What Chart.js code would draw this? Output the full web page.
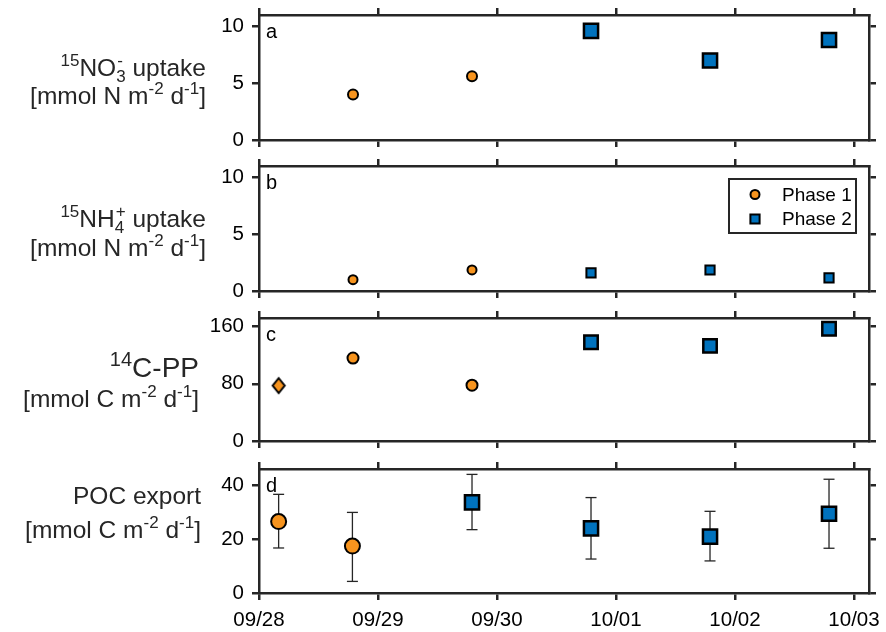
<!DOCTYPE html>
<html>
<head>
<meta charset="utf-8">
<script src="https://cdn.jsdelivr.net/npm/chart.js@4.4.1/dist/chart.umd.min.js"></script>
<style>
  html, body { margin: 0; padding: 0; background: #fff; }
  #wrap { position: relative; width: 886px; height: 632px; overflow: hidden; background: #fff; }
  #wrap canvas { position: absolute; left: 0; }
</style>
</head>
<body>
<div id="wrap">
  <canvas id="panelA" width="886" height="175"></canvas>
  <canvas id="panelB" width="886" height="175"></canvas>
  <canvas id="panelC" width="886" height="173"></canvas>
  <canvas id="panelD" width="886" height="188"></canvas>
</div>
<script>
// x axis: days since 09/28 00:00
const xTicks = [0, 1, 2, 3, 4, 5];
const xTickLabels = ["09/28", "09/29", "09/30", "10/01", "10/02", "10/03"];
const xMax = 5.126;

// sampling times (days)
const dayP1 = [0.79, 1.79];
const dayP2 = [2.79, 3.79, 4.79];
const dayPPExtra = [0.165];
const dayPocP1 = [0.165, 0.785];
const dayPocP2 = [1.79, 2.79, 3.79, 4.79];

// a: 15NO3- uptake
const no3P1 = [4.0, 5.6];
const no3P2 = [9.6, 7.0, 8.8];
// b: 15NH4+ uptake
const nh4P1 = [1.0, 1.85];
const nh4P2 = [1.6, 1.85, 1.15];
// c: 14C-PP
const ppExtra = [77.5];
const ppP1 = [116, 78];
const ppP2 = [138, 133, 157];
// d: POC export with error range
const pocP1 = [26.5, 17.4];
const pocP1Lo = [16.7, 4.3];
const pocP1Hi = [36.6, 29.9];
const pocP2 = [33.6, 24.0, 20.9, 29.4];
const pocP2Lo = [23.5, 12.6, 11.9, 16.6];
const pocP2Hi = [44.0, 35.4, 30.3, 42.2];

// y ticks
const yTicksN = [0, 5, 10];
const yMaxN = 11;
const yTicksPP = [0, 80, 160];
const yMaxPP = 172;
const yTicksPoc = [0, 20, 40];
const yMaxPoc = 46;

const legendLabels = ["Phase 1", "Phase 2"];
const titleA = ["^{15}NO_{3}^{-} uptake", "[mmol N m^{-2} d^{-1}]"];
const titleB = ["^{15}NH_{4}^{+} uptake", "[mmol N m^{-2} d^{-1}]"];
const titleC = ["^{14}C-PP", "[mmol C m^{-2} d^{-1}]"];
const titleD = ["POC export", "[mmol C m^{-2} d^{-1}]"];

const ORANGE = "#F7941E";
const BLUE = "#0072BD";
const INK = "#262626";
const FONT = '"Liberation Sans", Arial, Helvetica, sans-serif';

function pts(xs, ys) {
    return xs.map((x, i) => ({ x: x, y: ys[i] }));
}

function errData(xs, lo, hi) {
    const out = [];
    xs.forEach((x, i) => {
        out.push({ x: x, y: lo[i] }, { x: x, y: hi[i] }, { x: x, y: null });
    });
    return out;
}

// tall diamond marker (MATLAB 'd')
function diamondImage(w, h, fill) {
    const c = document.createElement("canvas");
    c.width = w + 4;
    c.height = h + 4;
    const g = c.getContext("2d");
    const cx = c.width / 2, cy = c.height / 2;
    g.beginPath();
    g.moveTo(cx, cy - h / 2);
    g.lineTo(cx + w / 2, cy);
    g.lineTo(cx, cy + h / 2);
    g.lineTo(cx - w / 2, cy);
    g.closePath();
    g.fillStyle = fill;
    g.fill();
    g.lineWidth = 2;
    g.strokeStyle = "#000";
    g.stroke();
    return c;
}

function markers(label, data, style, radius, fill, bw) {
    return {
        label: label,
        data: data,
        pointStyle: style,
        pointRadius: radius,
        pointHoverRadius: radius,
        pointBackgroundColor: fill,
        pointBorderColor: "#000",
        pointBorderWidth: bw,
        backgroundColor: fill,
        borderColor: "#000",
        borderWidth: bw,
        showLine: false,
        order: 1
    };
}

function errorBars(data) {
    return {
        data: data,
        showLine: true,
        spanGaps: false,
        borderColor: INK,
        borderWidth: 1.3,
        pointStyle: "line",
        pointRadius: 5.5,
        pointHoverRadius: 5.5,
        pointBorderColor: INK,
        pointBorderWidth: 1.3,
        order: 5
    };
}

// small TeX-like parser: ^{..} superscript, _{..} subscript
function parseTex(s) {
    const out = [];
    let i = 0;
    while (i < s.length) {
        const c = s[i];
        if ((c === "^" || c === "_") && s[i + 1] === "{") {
            const j = s.indexOf("}", i);
            const txt = s.slice(i + 2, j);
            const kind = c === "^" ? "sup" : "sub";
            const prev = out[out.length - 1];
            if (prev && prev.kind === "sub" && kind === "sup" && prev.stack === undefined) {
                prev.stack = txt;
            } else {
                out.push({ kind: kind, text: txt });
            }
            i = j + 1;
        } else {
            let j = i;
            while (j < s.length && !((s[j] === "^" || s[j] === "_") && s[j + 1] === "{")) j++;
            out.push({ kind: "norm", text: s.slice(i, j) });
            i = j;
        }
    }
    return out;
}

function drawTex(ctx, str, right, baseline, size) {
    const parts = parseTex(str);
    const small = Math.round(size * 0.7);
    const fNorm = size + "px " + FONT;
    const fSmall = small + "px " + FONT;
    const widths = parts.map(p => {
        if (p.kind === "norm") {
            ctx.font = fNorm;
            return ctx.measureText(p.text).width;
        }
        ctx.font = fSmall;
        let w = ctx.measureText(p.text).width;
        if (p.stack !== undefined) w = Math.max(w, ctx.measureText(p.stack).width + 1);
        return w;
    });
    let x = right - widths.reduce((a, b) => a + b, 0);
    parts.forEach((p, i) => {
        if (p.kind === "norm") {
            ctx.font = fNorm;
            ctx.fillText(p.text, x, baseline);
        } else {
            ctx.font = fSmall;
            const dy = p.kind === "sup" ? -0.4 * size : 0.26 * size;
            ctx.fillText(p.text, x, baseline + dy);
            if (p.stack !== undefined) ctx.fillText(p.stack, x + 1, baseline - 0.4 * size);
        }
        x += widths[i];
    });
}

function drawMarker(ctx, style, radius, x, y) {
    if (Chart.helpers && Chart.helpers.drawPoint) {
        Chart.helpers.drawPoint(ctx, { pointStyle: style, radius: radius, rotation: 0, borderWidth: ctx.lineWidth }, x, y);
        return;
    }
    ctx.beginPath();
    if (style === "rect") {
        const s = radius * Math.SQRT1_2;
        ctx.rect(x - s, y - s, 2 * s, 2 * s);
    } else {
        ctx.arc(x, y, radius, 0, Math.PI * 2);
    }
    ctx.fill();
    ctx.stroke();
}

// canvas-level decorations: panel letter, y title, optional legend
function decorPlugin(spec) {
    return {
        id: "decor",
        afterDraw(chart) {
            const ctx = chart.ctx;
            const a = chart.chartArea;
            ctx.save();
            ctx.fillStyle = "#000";
            ctx.textAlign = "left";
            ctx.textBaseline = "alphabetic";
            ctx.font = "20px " + FONT;
            ctx.fillText(spec.letter, a.left + 7, a.top + 23);

            ctx.fillStyle = INK;
            spec.title.forEach((line, i) => {
                drawTex(ctx, line, spec.titleRight, spec.baselines[i] - spec.canvasTop, spec.sizes[i]);
            });

            if (spec.legend) {
                const bx = a.right - 140, by = a.top + 13, bw = 127, bh = 54;
                ctx.fillStyle = "#fff";
                ctx.fillRect(bx, by, bw, bh);
                ctx.strokeStyle = INK;
                ctx.lineWidth = 2;
                ctx.strokeRect(bx, by, bw, bh);
                const items = chart.data.datasets.filter(d => legendLabels.includes(d.label));
                items.forEach((d, i) => {
                    const cy = by + 15.5 + i * 24.5;
                    ctx.fillStyle = d.pointBackgroundColor;
                    ctx.strokeStyle = "#000";
                    ctx.lineWidth = d.pointBorderWidth;
                    drawMarker(ctx, d.pointStyle, d.pointRadius, bx + 26, cy);
                    ctx.fillStyle = "#000";
                    ctx.font = "19px " + FONT;
                    ctx.textBaseline = "middle";
                    ctx.fillText(d.label, bx + 53, cy + 1);
                });
            }
            ctx.restore();
        }
    };
}

function axisLook() {
    return {
        grid: { drawOnChartArea: false, drawTicks: true, tickLength: 7, tickWidth: 2.5, lineWidth: 2.5, color: INK, tickColor: INK },
        border: { display: true, color: INK, width: 2.5 }
    };
}

// fixed axis thickness, and no label overhang pushing the plot box
function fixSize(prop, value) {
    return s => {
        s[prop] = value;
        s.paddingLeft = 0;
        s.paddingRight = 0;
        s.paddingTop = 0;
        s.paddingBottom = 0;
    };
}

function makePanel(id, top, bottom, bottomSpace, yTicks, yMax, datasets, spec, showX) {
    const canvas = document.getElementById(id);
    const canvasTop = top - 25;
    canvas.style.top = canvasTop + "px";
    spec.canvasTop = canvasTop;
    const tickFont = { family: FONT, size: 20.5 };
    const setX = s => { s.ticks = xTicks.map(v => ({ value: v })); };
    const setY = s => { s.ticks = yTicks.map(v => ({ value: v })); };

    return new Chart(canvas, {
        type: "scatter",
        data: { datasets: datasets },
        options: {
            responsive: false,
            animation: false,
            events: [],
            layout: { padding: { left: 159, right: 0, top: 5, bottom: 5 } },
            plugins: { legend: { display: false }, tooltip: { enabled: false } },
            scales: {
                x: Object.assign({
                    type: "linear", position: "bottom", min: 0, max: xMax,
                    afterBuildTicks: setX,
                    afterFit: fixSize("height", bottomSpace - 5),
                    ticks: {
                        display: showX, font: tickFont, color: "#000", padding: 8,
                        maxRotation: 0, autoSkip: false,
                        callback: v => xTickLabels[xTicks.indexOf(v)]
                    }
                }, axisLook()),
                x2: Object.assign({
                    type: "linear", position: "top", min: 0, max: xMax,
                    afterBuildTicks: setX,
                    afterFit: fixSize("height", 20),
                    ticks: { display: false }
                }, axisLook()),
                y: Object.assign({
                    type: "linear", position: "left", min: 0, max: yMax,
                    afterBuildTicks: setY,
                    afterFit: fixSize("width", 100),
                    ticks: { font: tickFont, color: "#000", padding: 8 }
                }, axisLook()),
                y2: Object.assign({
                    type: "linear", position: "right", min: 0, max: yMax,
                    afterBuildTicks: setY,
                    afterFit: fixSize("width", 17),
                    ticks: { display: false }
                }, axisLook())
            }
        },
        plugins: [decorPlugin(spec)]
    });
}

makePanel("panelA", 15, 140, 25, yTicksN, yMaxN, [
    markers(legendLabels[0], pts(dayP1, no3P1), "circle", 5, ORANGE, 2),
    markers(legendLabels[1], pts(dayP2, no3P2), "rect", 10, BLUE, 2.5)
], { letter: "a", title: titleA, titleRight: 206, baselines: [76, 104], sizes: [24.5, 24.5] }, false);

makePanel("panelB", 166, 291, 25, yTicksN, yMaxN, [
    markers(legendLabels[0], pts(dayP1, nh4P1), "circle", 4.5, ORANGE, 2),
    markers(legendLabels[1], pts(dayP2, nh4P2), "rect", 6.5, BLUE, 2)
], { letter: "b", title: titleB, titleRight: 206, baselines: [227, 256], sizes: [24.5, 24.5], legend: true }, false);

makePanel("panelC", 318, 441, 25, yTicksPP, yMaxPP, [
    markers("", pts(dayPPExtra, ppExtra), diamondImage(12, 15, ORANGE), 7, ORANGE, 2),
    markers(legendLabels[0], pts(dayP1, ppP1), "circle", 5.5, ORANGE, 2),
    markers(legendLabels[1], pts(dayP2, ppP2), "rect", 9.5, BLUE, 2.5)
], { letter: "c", title: titleC, titleRight: 199, baselines: [377, 407], sizes: [28, 24.5] }, false);

makePanel("panelD", 469, 593, 39, yTicksPoc, yMaxPoc, [
    errorBars(errData(dayPocP1, pocP1Lo, pocP1Hi)),
    errorBars(errData(dayPocP2, pocP2Lo, pocP2Hi)),
    markers(legendLabels[0], pts(dayPocP1, pocP1), "circle", 7.5, ORANGE, 2),
    markers(legendLabels[1], pts(dayPocP2, pocP2), "rect", 10, BLUE, 2.5)
], { letter: "d", title: titleD, titleRight: 201, baselines: [504, 538], sizes: [24.5, 24.5] }, true);
</script>
</body>
</html>
